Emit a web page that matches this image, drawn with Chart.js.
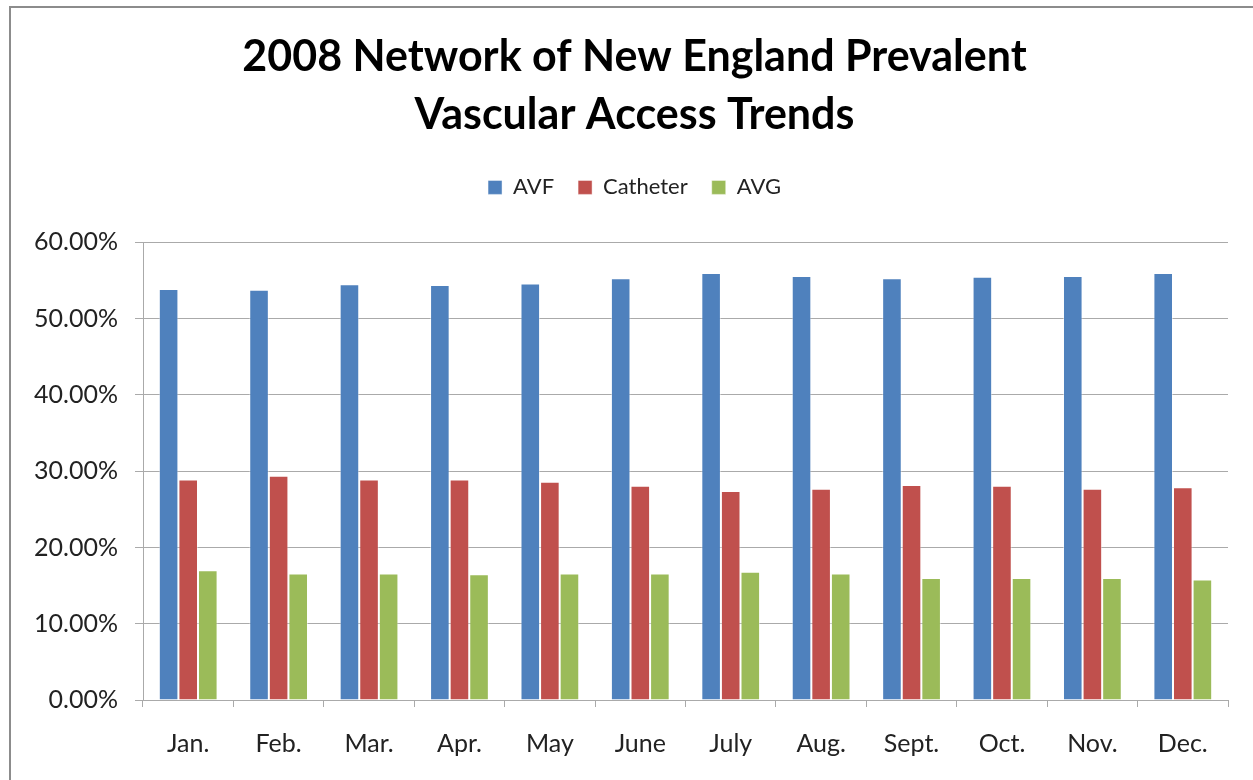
<!DOCTYPE html>
<html>
<head>
<meta charset="utf-8">
<title>2008 Network of New England Prevalent Vascular Access Trends</title>
<script src="https://cdn.jsdelivr.net/npm/chart.js@4/dist/chart.umd.min.js"></script>
<style>
    body { margin: 0; background: #ffffff; }
    #wrap { position: relative; width: 1253px; height: 780px; overflow: hidden; }
    #frame {
        position: absolute; left: 9px; top: 6px; width: 1300px; height: 800px;
        border-left: 2px solid #8c8c8c; border-top: 2px solid #8c8c8c;
    }
    #accessChart { position: absolute; left: 0; top: 0; }
</style>
</head>
<body>
<div id="wrap">
    <div id="frame"></div>
    <canvas id="accessChart" width="1253" height="780"></canvas>
</div>
<script>
const months = ['Jan.', 'Feb.', 'Mar.', 'Apr.', 'May', 'June', 'July', 'Aug.', 'Sept.', 'Oct.', 'Nov.', 'Dec.'];

// percent of prevalent patients by access type
const avf = [53.9, 53.8, 54.5, 54.4, 54.6, 55.3, 56.0, 55.6, 55.3, 55.5, 55.6, 56.0];
const catheter = [28.9, 29.4, 28.9, 28.9, 28.6, 28.1, 27.4, 27.7, 28.2, 28.1, 27.7, 27.9];
const avg = [17.0, 16.6, 16.6, 16.5, 16.6, 16.6, 16.8, 16.6, 16.0, 16.0, 16.0, 15.8];

const yTicks = [0, 10, 20, 30, 40, 50, 60];

const font = 'Lato, "Open Sans", sans-serif';
const gridGray = '#aaaaaa';

const ctx = document.getElementById('accessChart').getContext('2d');

new Chart(ctx, {
    type: 'bar',
    data: {
        labels: months,
        datasets: [{
            label: 'AVF',
            data: avf,
            backgroundColor: '#4f81bd',
            borderColor: 'rgba(255,255,255,0.45)',
            borderWidth: 1
        }, {
            label: 'Catheter',
            data: catheter,
            backgroundColor: '#c0504d',
            borderColor: 'rgba(255,255,255,0.45)',
            borderWidth: 1
        }, {
            label: 'AVG',
            data: avg,
            backgroundColor: '#9bbb59',
            borderColor: 'rgba(255,255,255,0.45)',
            borderWidth: 1
        }]
    },
    options: {
        responsive: false,
        animation: false,
        layout: {
            padding: { left: 16, right: 0, top: 0, bottom: 0 }
        },
        datasets: {
            bar: {
                categoryPercentage: 0.65,
                barPercentage: 1.0
            }
        },
        plugins: {
            title: {
                display: true,
                text: ['2008 Network of New England Prevalent', 'Vascular Access Trends'],
                color: '#000000',
                font: { family: font, size: 43, weight: 'bold', lineHeight: 1.33 },
                padding: { top: 29, bottom: 9 }
            },
            legend: {
                display: true,
                position: 'top',
                labels: {
                    color: '#222222',
                    font: { family: font, size: 22 },
                    boxWidth: 14,
                    boxHeight: 14,
                    padding: 24
                }
            },
            // empty line below the legend, keeps the gap above the plot
            subtitle: {
                display: true,
                text: '',
                weight: 500,
                font: { size: 10, lineHeight: 1 },
                padding: { top: 24, bottom: 0 }
            },
            tooltip: { enabled: false }
        },
        scales: {
            x: {
                afterFit: s => { s.height = 80; },
                grid: {
                    display: true,
                    drawOnChartArea: false,
                    drawTicks: true,
                    tickLength: 7,
                    color: gridGray,
                    offset: true
                },
                border: { display: true, color: gridGray, width: 1 },
                ticks: {
                    color: '#222222',
                    font: { family: font, size: 25 },
                    padding: 22,
                    maxRotation: 0
                }
            },
            y: {
                min: 0,
                max: 60,
                afterFit: s => { s.width = 127; },
                afterBuildTicks: s => { s.ticks = yTicks.map(v => ({ value: v })); },
                grid: {
                    color: gridGray,
                    lineWidth: 1,
                    drawTicks: true,
                    tickLength: 8
                },
                border: { display: true, color: gridGray, width: 1 },
                ticks: {
                    color: '#222222',
                    font: { family: font, size: 25 },
                    padding: 17,
                    callback: v => v.toFixed(2) + '%'
                }
            },
            // blank strip on the right of the plot
            yRight: {
                position: 'right',
                afterFit: s => { s.width = 25; },
                grid: { display: false },
                border: { display: false },
                ticks: { display: false }
            }
        }
    }
});
</script>
</body>
</html>
